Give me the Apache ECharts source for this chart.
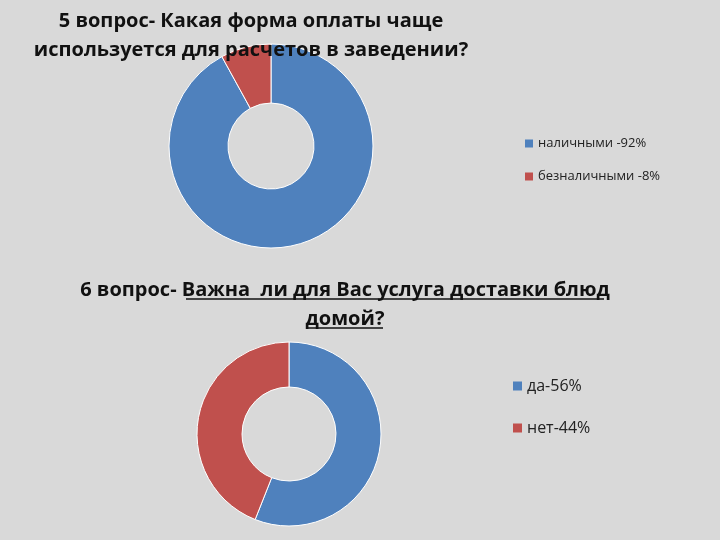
<!DOCTYPE html>
<html>
<head>
<meta charset="UTF-8">
<script src="https://cdn.jsdelivr.net/npm/echarts@6/dist/echarts.min.js"></script>
<style>body{margin:0;background:#d9d9d9}</style>
</head>
<body>
<div id="main" style="width:720px;height:540px;"></div>
<script>
const names1 = ['наличными -92%', 'безналичными -8%'];
const values1 = [92, 8];
const names2 = ['да-56%', 'нет-44%'];
const values2 = [56, 44];
const colors = ['#4F81BD', '#C0504D'];

const chart = echarts.init(document.getElementById('main'));
const font = '"Open Sans", sans-serif';
chart.setOption({
  backgroundColor: '#d9d9d9',
  color: colors,
  title: [
    {text: '5 вопрос- Какая форма оплаты чаще\nиспользуется для расчетов в заведении?', left: 246, top: 2, textAlign: 'center',
     textStyle: {fontFamily: font, fontSize: 20, fontWeight: 'bold', color: '#111', lineHeight: 29}},
    {text: '6 вопрос- Важна  ли для Вас услуга доставки блюд\nдомой?', left: 340, top: 271, textAlign: 'center',
     textStyle: {fontFamily: font, fontSize: 20, fontWeight: 'bold', color: '#111', lineHeight: 29}}
  ],
  legend: [
    {data: names1, orient: 'vertical', left: 520, top: 132, itemGap: 20, itemWidth: 8, itemHeight: 8, icon: 'rect',
     itemStyle: {borderWidth: 0}, textStyle: {fontFamily: font, fontSize: 13, color: '#222'}},
    {data: names2, orient: 'vertical', left: 508, top: 373, itemGap: 26, itemWidth: 9, itemHeight: 9, icon: 'rect',
     itemStyle: {borderWidth: 0}, textStyle: {fontFamily: font, fontSize: 16, color: '#222'}}
  ],
  graphic: [
    {type: 'line', shape: {x1: 186, y1: 299, x2: 604, y2: 299}, style: {stroke: '#111', lineWidth: 1.5}},
    {type: 'line', shape: {x1: 306, y1: 328, x2: 383, y2: 328}, style: {stroke: '#111', lineWidth: 1.5}}
  ],
  series: [
    {type: 'pie', center: [271, 146], radius: [43, 102], label: {show: false}, silent: true,
     itemStyle: {borderColor: '#fff', borderWidth: 1},
     data: names1.map((n, i) => ({name: n, value: values1[i]}))},
    {type: 'pie', center: [289, 434], radius: [47, 92], label: {show: false}, silent: true,
     itemStyle: {borderColor: '#fff', borderWidth: 1},
     data: names2.map((n, i) => ({name: n, value: values2[i]}))}
  ]
});
</script>
</body>
</html>
